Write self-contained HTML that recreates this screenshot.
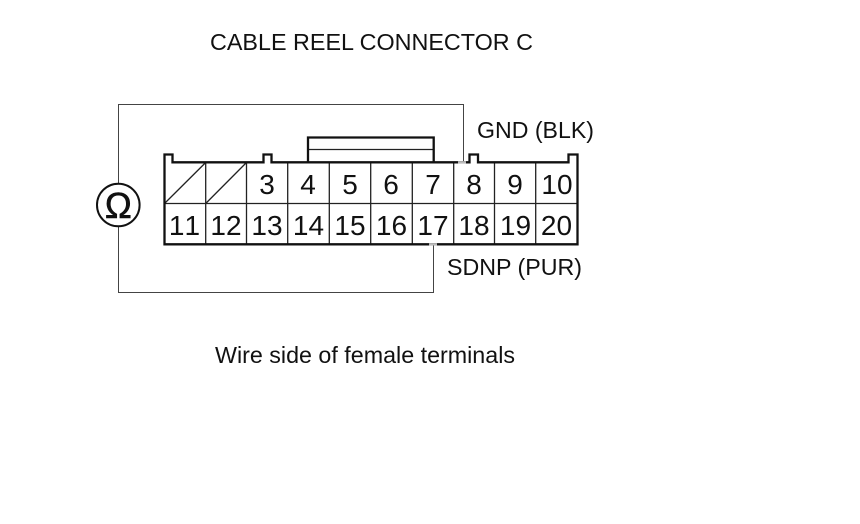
<!DOCTYPE html>
<html>
<head>
<meta charset="utf-8">
<style>
html,body{margin:0;padding:0;background:#fff;width:860px;height:524px;overflow:hidden}
svg{display:block}
text{font-family:"Liberation Sans",Arial,sans-serif;fill:#111}
.l{font-size:23px}
.n{font-size:28px;text-anchor:middle;font-kerning:none}
</style>
</head>
<body>
<svg width="860" height="524" viewBox="0 0 860 524" xmlns="http://www.w3.org/2000/svg">
<rect width="860" height="524" fill="#fff"/>
<!-- wires -->
<g fill="none" stroke="#444" stroke-width="1">
<path d="M118.5 183V104.5H463.5V162"/>
<path d="M118.5 227V292.5H433.5V244"/>
</g>
<!-- meter -->
<circle cx="118.3" cy="205" r="21.3" fill="#fff" stroke="#111" stroke-width="2"/>
<text x="118.3" y="218" text-anchor="middle" style="font-size:36px;stroke:#111;stroke-width:0.6px">Ω</text>
<!-- connector inner -->
<g fill="none" stroke="#222" stroke-width="1.3">
<path d="M205.7 162V244M246.5 162V244M287.7 162V244M329.3 162V244M370.7 162V244M412.3 162V244M453.7 162V244M494.5 162V244M535.7 162V244"/>
<path d="M164 203.5H577.5"/>
<path d="M164.5 203.5L205.7 162.5M205.7 203.5L246.5 162.5"/>
<path d="M308 149.5H433.5"/>
</g>
<!-- connector outline -->
<g fill="none" stroke="#111" stroke-width="2.3">
<path d="M164.5 244.3V154.5H172.5V162.3H263.5V154.5H271.5V162.3H469.5V154.5H478V162.3H568.5V154.5H577.5V244.3Z"/>
<path d="M308 162V137.5H433.7V162"/>
</g>
<path d="M458 162.3H466" stroke="#bbb" stroke-width="2.3"/>
<path d="M429 244.3H437" stroke="#bbb" stroke-width="2.3"/>
<!-- numbers -->
<g>
<text class="n" x="267" y="194">3</text>
<text class="n" x="308" y="194">4</text>
<text class="n" x="350" y="194">5</text>
<text class="n" x="391" y="194">6</text>
<text class="n" x="433" y="194">7</text>
<text class="n" x="474" y="194">8</text>
<text class="n" x="515" y="194">9</text>
<text class="n" x="557" y="194">10</text>
<text class="n" x="184.5" y="235">11</text>
<text class="n" x="226" y="235">12</text>
<text class="n" x="267" y="235">13</text>
<text class="n" x="308.5" y="235">14</text>
<text class="n" x="350" y="235">15</text>
<text class="n" x="391.5" y="235">16</text>
<text class="n" x="433" y="235">17</text>
<text class="n" x="474" y="235">18</text>
<text class="n" x="515.5" y="235">19</text>
<text class="n" x="556.5" y="235">20</text>
</g>
<!-- labels -->
<text class="l" x="210" y="50" textLength="323" lengthAdjust="spacingAndGlyphs">CABLE REEL CONNECTOR C</text>
<text class="l" x="477" y="138" textLength="117" lengthAdjust="spacingAndGlyphs">GND (BLK)</text>
<text class="l" x="447" y="275" textLength="135" lengthAdjust="spacingAndGlyphs">SDNP (PUR)</text>
<text class="l" x="215" y="363" textLength="300" lengthAdjust="spacingAndGlyphs">Wire side of female terminals</text>
</svg>
</body>
</html>
